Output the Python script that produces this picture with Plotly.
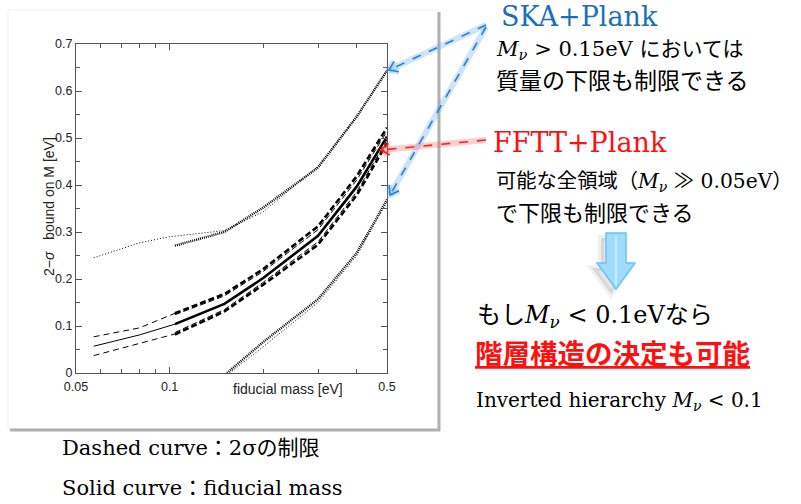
import math
import plotly.graph_objects as go

# ---------------- data ----------------
# FFTT+Plank: fiducial (solid) and 2-sigma bounds (dashed)
mass_thin = [0.057, 0.08, 0.104]
fid_thin = [0.057, 0.081, 0.104]
up_thin = [0.077, 0.096, 0.127]
lo_thin = [0.037, 0.062, 0.083]

mass_thick = [0.104, 0.15, 0.2, 0.3, 0.4, 0.5]
fid_thick = [0.104, 0.147, 0.202, 0.292, 0.397, 0.503]
up_thick_a = [0.127, 0.168, 0.221, 0.312, 0.419, 0.522]
up_thick_b = [0.124, 0.164, 0.216, 0.305, 0.411, 0.514]
lo_thick_a = [0.082, 0.131, 0.188, 0.273, 0.379, 0.489]
lo_thick_b = [0.086, 0.135, 0.193, 0.279, 0.386, 0.496]

# SKA+Plank (dotted)
mass_ska_thin = [0.057, 0.08, 0.1, 0.15, 0.2, 0.3, 0.4, 0.5]
ska_up_thin = [0.245, 0.277, 0.290, 0.303, 0.343, 0.440, 0.545, 0.645]
mass_ska_thick = [0.104, 0.15, 0.2, 0.3, 0.4, 0.5]
ska_up_thick = [0.271, 0.300, 0.352, 0.437, 0.546, 0.643]
mass_ska_lo_thick = [0.153, 0.2, 0.3, 0.4, 0.5]
ska_lo_thick = [0.0, 0.066, 0.157, 0.256, 0.369]
mass_ska_lo_thin = [0.156, 0.2, 0.3, 0.4, 0.5]
ska_lo_thin = [0.0, 0.056, 0.150, 0.250, 0.364]

x_tickvals = [0.05, 0.1, 0.5]
x_ticktext = ["0.05", "0.1", "0.5"]
x_minor = [0.06, 0.07, 0.08, 0.09, 0.2, 0.3, 0.4]
y_tickvals = [0, 0.1, 0.2, 0.3, 0.4, 0.5, 0.6, 0.7]
y_ticktext = ["0", "0.1", "0.2", "0.3", "0.4", "0.5", "0.6", "0.7"]

# ---------------- helpers ----------------
W, H = 801, 504
def px(x):
    return x / W
def py(y):
    return 1 - y / H

fig = go.Figure()

def add(xs, ys, width, dash, color="black"):
    fig.add_trace(go.Scatter(x=xs, y=ys, mode="lines",
                             line=dict(color=color, width=width, dash=dash),
                             hoverinfo="skip"))

# SKA dotted
add(mass_ska_thin, ska_up_thin, 1, "1px,2px")
add(mass_ska_thick, ska_up_thick, 2.4, "1px,1px")
add(mass_ska_lo_thin, ska_lo_thin, 1, "1px,2px")
add(mass_ska_lo_thick, ska_lo_thick, 2.4, "1px,1px")
# FFTT dashed + solid
add(mass_thin, up_thin, 1, "6px,4px")
add(mass_thin, lo_thin, 1, "6px,4px")
add(mass_thin, fid_thin, 1, "solid")
add(mass_thick, up_thick_b, 1, "6px,3px")
add(mass_thick, lo_thick_b, 1, "6px,3px")
add(mass_thick, up_thick_a, 2.6, "6px,3px")
add(mass_thick, lo_thick_a, 2.6, "6px,3px")
add(mass_thick, fid_thick, 2.6, "solid")

axis_common = dict(showline=True, linecolor="#555", linewidth=1, mirror="allticks",
                   ticks="inside", tickcolor="#555", tickwidth=1, ticklen=6,
                   showgrid=False, zeroline=False, automargin=False,
                   tickfont=dict(family="Liberation Sans, Arial", size=12.5, color="#222"))

fig.update_layout(
    width=W, height=H, margin=dict(l=0, r=0, t=0, b=0, autoexpand=False),
    paper_bgcolor="white", plot_bgcolor="white", showlegend=False,
    xaxis=dict(type="log", range=[math.log10(0.05), math.log10(0.5)],
               domain=[px(76), px(387)], tickmode="array",
               tickvals=x_tickvals, ticktext=x_ticktext, ticklabelstandoff=2,
               minor=dict(tickmode="array", tickvals=x_minor, ticks="inside",
                          ticklen=4, tickcolor="#555", showgrid=False),
               **axis_common),
    yaxis=dict(range=[0, 0.7], domain=[py(373), py(44)], tickmode="array",
               tickvals=y_tickvals, ticktext=y_ticktext,
               minor=dict(dtick=0.05, ticks="inside", ticklen=4, tickcolor="#555",
                          showgrid=False),
               **axis_common),
)

shapes = []
# image panel with shadow
shapes.append(dict(type="rect", xref="paper", yref="paper", x0=px(8), x1=px(438),
                   y0=py(429), y1=py(10), line=dict(color="#eeeeee", width=1),
                   fillcolor="rgba(0,0,0,0)", layer="below"))
shapes.append(dict(type="line", xref="paper", yref="paper", x0=px(439), x1=px(439),
                   y0=py(12), y1=py(431), line=dict(color="#b0b0b0", width=3)))
shapes.append(dict(type="line", xref="paper", yref="paper", x0=px(10), x1=px(440),
                   y0=py(430), y1=py(430), line=dict(color="#b0b0b0", width=3)))

def dashed_arrow(tail, tip, color, glow):
    x0, y0 = tail
    x1, y1 = tip
    shapes.append(dict(type="line", xref="paper", yref="paper", x0=px(x0), y0=py(y0),
                       x1=px(x1), y1=py(y1), line=dict(color=glow, width=6)))
    shapes.append(dict(type="line", xref="paper", yref="paper", x0=px(x0), y0=py(y0),
                       x1=px(x1), y1=py(y1), line=dict(color=color, width=1.6, dash="dash")))
    dx, dy = x0 - x1, y0 - y1
    L = math.hypot(dx, dy)
    ux, uy = dx / L, dy / L
    pts = []
    for a in (math.radians(35), -math.radians(35)):
        rx = ux * math.cos(a) - uy * math.sin(a)
        ry = ux * math.sin(a) + uy * math.cos(a)
        pts.append((x1 + 10 * rx, y1 + 10 * ry))
    path = "M {} {} L {} {} L {} {}".format(px(pts[0][0]), py(pts[0][1]), px(x1), py(y1),
                                           px(pts[1][0]), py(pts[1][1]))
    shapes.append(dict(type="path", xref="paper", yref="paper", path=path,
                       line=dict(color=glow, width=6)))
    shapes.append(dict(type="path", xref="paper", yref="paper", path=path,
                       line=dict(color=color, width=1.6)))

blue, blue_glow = "#2a7fd4", "rgba(90,165,240,0.3)"
red, red_glow = "#ff2020", "rgba(255,60,60,0.25)"
dashed_arrow((486, 25), (389, 70), blue, blue_glow)
dashed_arrow((486, 27), (390, 195), blue, blue_glow)
dashed_arrow((486, 140), (381, 150), red, red_glow)

# light blue down arrow (with soft shadow)
def arrow_path(cx, top, shaft_hw, head_hw, head_y, tip_y, dx=0, dy=0):
    p = [(cx - shaft_hw, top), (cx + shaft_hw, top), (cx + shaft_hw, head_y),
         (cx + head_hw, head_y), (cx, tip_y), (cx - head_hw, head_y), (cx - shaft_hw, head_y)]
    s = "M " + " L ".join("{} {}".format(px(a + dx), py(b + dy)) for a, b in p) + " Z"
    return s
shapes.append(dict(type="path", xref="paper", yref="paper",
                   path=arrow_path(616, 233, 10, 19, 263, 289, dx=-5, dy=5),
                   fillcolor="rgba(0,0,0,0.10)", line=dict(color="rgba(0,0,0,0.06)", width=6)))
shapes.append(dict(type="path", xref="paper", yref="paper",
                   path=arrow_path(616, 233, 10, 19, 263, 289),
                   fillcolor="#9fdcfa", line=dict(color="#6cc3f0", width=1.5)))
shapes.append(dict(type="line", xref="paper", yref="paper", x0=px(616), x1=px(616),
                   y0=py(237), y1=py(285), line=dict(color="#c9efff", width=2)))

fig.update_layout(shapes=shapes)

serif_jp = "DejaVu Serif, Noto Sans CJK JP"
sans_jp = "Noto Sans CJK JP"
Mnu = "<i>M</i><sub><i>ν</i></sub>"

def txt(x, y, text, size, color="black", family=serif_jp, **kw):
    fig.add_annotation(xref="paper", yref="paper", x=px(x), y=py(y), text=text,
                       showarrow=False, xanchor="left", yanchor="middle", align="left",
                       borderpad=0,
                       font=dict(size=size, color=color, family=family), **kw)

# axis titles
fig.add_annotation(xref="paper", yref="paper", x=px(39), y=py(207),
                   text="2−<i>σ</i>   bound on M [eV]", showarrow=False, textangle=-90,
                   font=dict(family="Liberation Sans, Arial", size=14, color="#222"))
fig.add_annotation(xref="paper", yref="paper", x=px(231), y=py(399),
                   text="fiducial mass [eV]", showarrow=False,
                   font=dict(family="Liberation Sans, Arial", size=14, color="#222"))

txt(500, 17, "SKA+Plank", 27, color="#1b6fb8", family="DejaVu Serif")
txt(495, 50, Mnu + " > 0.15eV においては", 21)
txt(495, 79, "質量の下限も制限できる", 23, family=sans_jp)
txt(492, 142, "FFTT+Plank", 27, color="#ff1010", family="DejaVu Serif")
txt(495, 182, "可能な全領域（" + Mnu + " ≫ 0.05eV）", 20.3)
txt(495, 211, "で下限も制限できる", 22, family=sans_jp)
txt(476, 316, "もし" + Mnu + " < 0.1eVなら", 24)
txt(474, 352, "<u><b>階層構造の決定も可能</b></u>", 27.5, color="#ff1010", family=sans_jp)
txt(475, 401, "Inverted hierarchy " + Mnu + " < 0.1", 20)
txt(61, 448, "Dashed curve：2σの制限", 21)
txt(61, 488, "Solid curve：fiducial mass", 21)

# remove the page's default body margin so the 801x504 figure fills the window
fig.write_html("out.html", config={"displayModeBar": False},
               post_script="document.body.style.margin='0';document.body.style.overflow='hidden';")
